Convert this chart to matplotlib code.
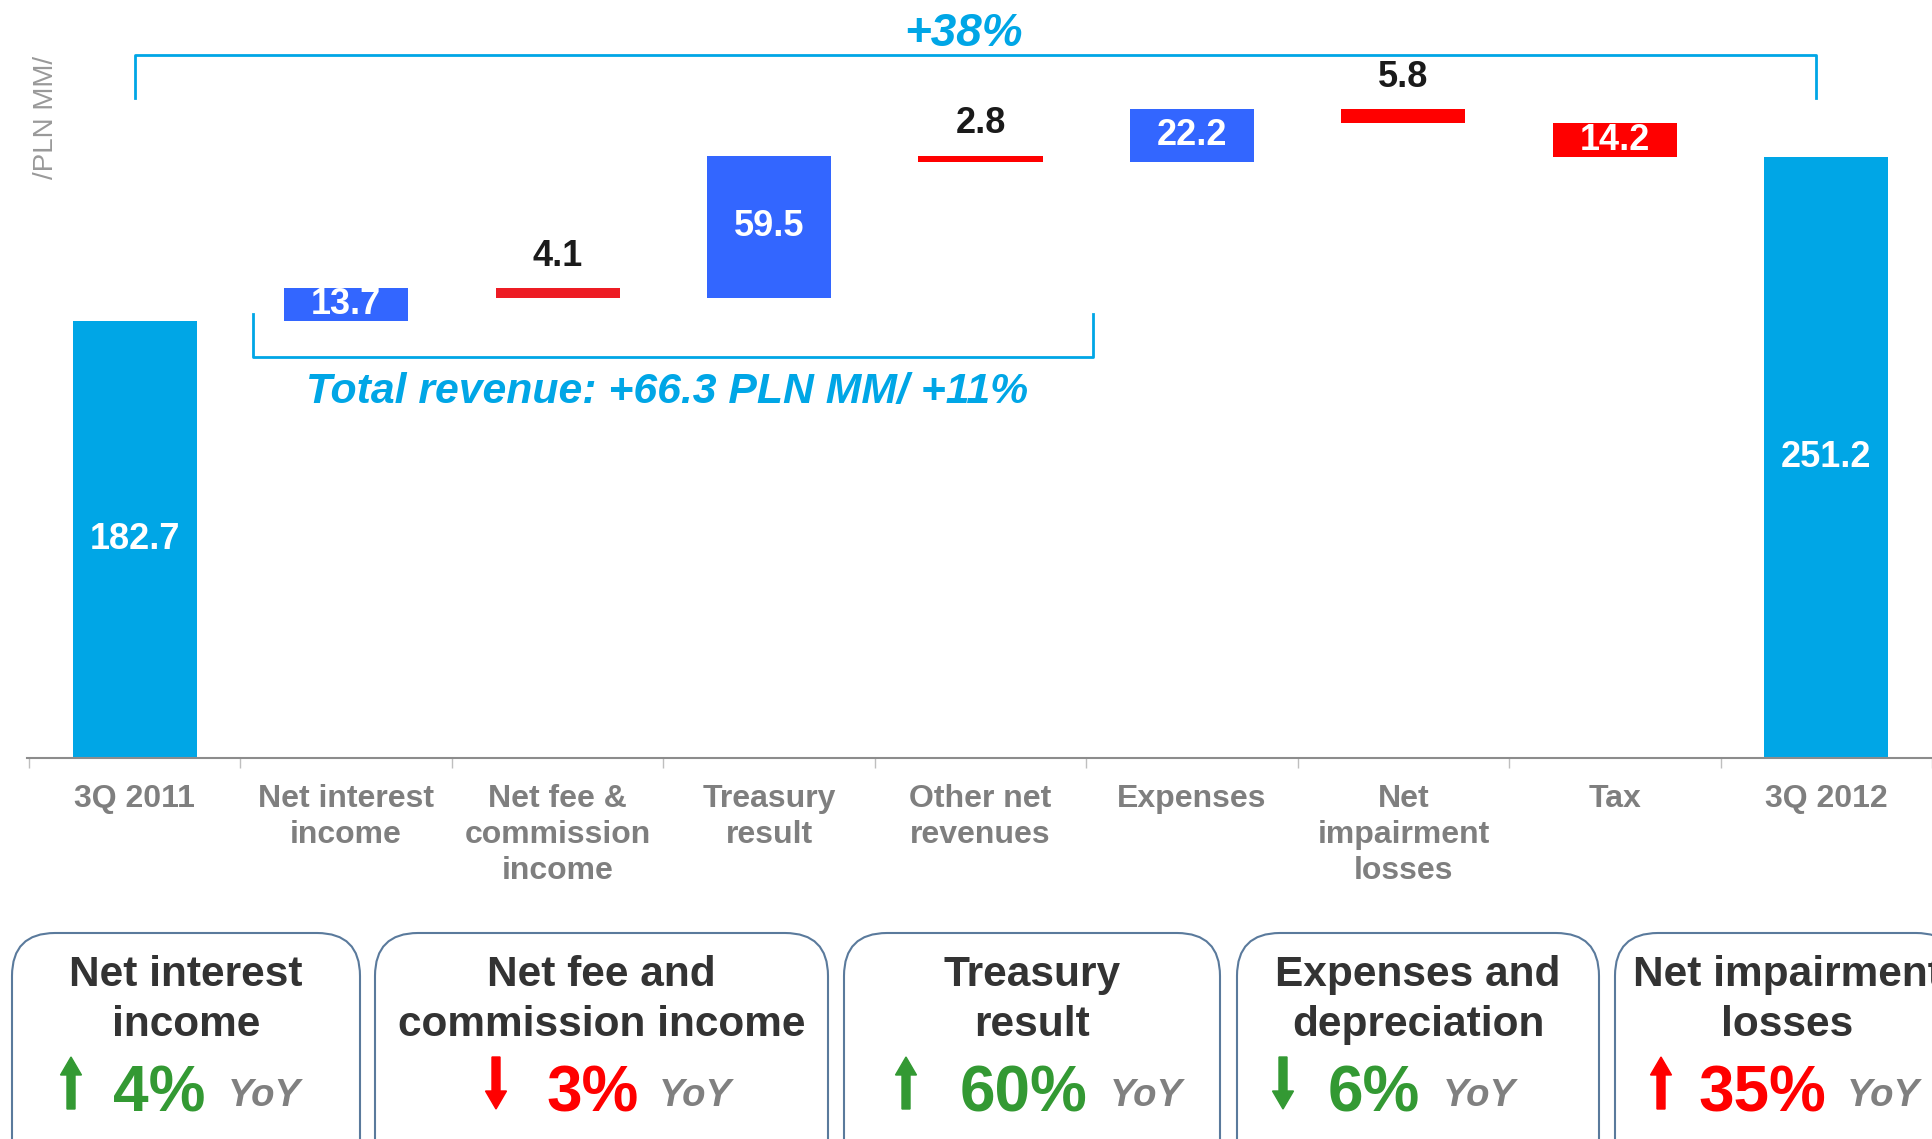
import matplotlib.pyplot as plt
from matplotlib.patches import FancyBboxPatch, FancyArrow
import numpy as np

plt.rcParams['font.family'] = ['Liberation Sans', 'DejaVu Sans']

# waterfall data (PLN MM)
categories = ['3Q 2011', 'Net interest\nincome', 'Net fee &\ncommission\nincome',
              'Treasury\nresult', 'Other net\nrevenues', 'Expenses',
              'Net\nimpairment\nlosses', 'Tax', '3Q 2012']
changes = [182.7, 13.7, -4.1, 59.5, -2.8, 22.2, -5.8, -14.2, 251.2]
is_total = [True, False, False, False, False, False, False, False, True]

# YoY boxes
box_titles = ['Net interest\nincome', 'Net fee and\ncommission income', 'Treasury\nresult',
              'Expenses and\ndepreciation', 'Net impairment\nlosses']
box_pct = ['4%', '3%', '60%', '6%', '35%']
box_up = [True, False, True, False, True]
box_good = [True, False, True, True, False]

total_text = 'Total revenue: +66.3 PLN MM/ +11%'
growth_text = '+38%'

W, H = 1932, 1139
LIGHT = '#00A6E6'
BLUE = '#3366FF'
RED = '#FF0000'
GREEN = '#339933'
STEP = 213.0  # pixels per category

fig = plt.figure(figsize=(W / 100, H / 100), dpi=100)
ax = fig.add_axes([27 / W, (H - 758) / H, (W - 27) / W, 758 / H])

x = np.arange(len(categories))
bottoms, heights, colors = [], [], []
level = 0
for v, tot in zip(changes, is_total):
    if tot:
        bottoms.append(0); heights.append(v); colors.append(LIGHT)
        level = v
    else:
        if v >= 0:
            bottoms.append(level); heights.append(v); colors.append(BLUE)
        else:
            bottoms.append(level + v); heights.append(-v); colors.append(RED)
        level += v
colors[2] = '#ED1C24'

ax.bar(x, heights, bottom=bottoms, width=0.587, color=colors, zorder=2)

for i, v in enumerate(changes):
    txt = f'{abs(v):.1f}'
    if heights[i] > 10:
        ax.text(x[i], bottoms[i] + heights[i] / 2, txt, ha='center', va='center',
                color='white', fontsize=26, fontweight='bold', zorder=3)
    else:
        ax.annotate(txt, (x[i], bottoms[i] + heights[i]), xytext=(0, 16),
                    textcoords='offset points', ha='center', va='baseline',
                    color='#1a1a1a', fontsize=26, fontweight='bold')

x_left = -(135.5 - 27) / STEP
ax.set_xlim(x_left, x_left + (W - 27) / STEP)
ax.set_ylim(0, 758 / 2.392)
for s in ['top', 'right', 'left']:
    ax.spines[s].set_visible(False)
ax.spines['bottom'].set_color('#8c8c8c')
ax.spines['bottom'].set_linewidth(1.5)
ax.set_yticks([])
ax.set_xticks(x)
ax.set_xticklabels(categories, fontsize=23, fontweight='bold', color='#7f7f7f',
                   linespacing=1.25)
ax.tick_params(axis='x', which='major', length=0, pad=19)
ax.set_xticks(np.arange(-0.5, len(categories), 1.0), minor=True)
ax.tick_params(axis='x', which='minor', length=7, color='#bfbfbf', width=1)
ax.text(-0.42, 268, '/PLN MM/', rotation=90, ha='center', va='center',
        fontsize=20, color='#999999')

# brackets
ax.plot([0, 0, 7.95, 7.95], [275.8, 293.8, 293.8, 275.8], color=LIGHT, lw=2,
        clip_on=False, solid_joinstyle='round')
ax.text(3.92, 302.5, growth_text, ha='center', va='center', color=LIGHT,
        fontsize=33, fontweight='bold', fontstyle='italic', clip_on=False)
ax.plot([0.56, 0.56, 4.53, 4.53], [185.6, 167.5, 167.5, 185.6], color=LIGHT, lw=2,
        solid_joinstyle='round')
ax.text(2.52, 153, total_text, ha='center', va='center', color=LIGHT,
        fontsize=30.8, fontweight='bold', fontstyle='italic')

# bottom YoY boxes, figure pixel layout
ov = fig.add_axes([0, 0, 1, 1])
ov.set_xlim(0, W)
ov.set_ylim(H, 0)
ov.axis('off')

box_edges = [(12, 360), (375, 828), (844, 1220), (1237, 1599), (1615, 1959)]
arrow_x = [71, 496, 906, 1283, 1661]
pct_left = [113, 546, 960, 1328, 1698]
yoy_left = [228, 659, 1110, 1443, 1847]

for i, (x0, x1) in enumerate(box_edges):
    ov.add_patch(FancyBboxPatch((x0, 933), x1 - x0, 260,
                                boxstyle='round,pad=0,rounding_size=43',
                                fc='white', ec='#5a7a9c', lw=1.5))
    cx = (x0 + x1) / 2
    l1, l2 = box_titles[i].split('\n')
    ov.text(cx, 986, l1, ha='center', va='baseline', fontsize=30.5,
            fontweight='bold', color='#333333')
    ov.text(cx, 1036, l2, ha='center', va='baseline', fontsize=30.5,
            fontweight='bold', color='#333333')
    col = GREEN if box_good[i] else RED
    if box_up[i]:
        arr = FancyArrow(arrow_x[i], 1109, 0, -52, width=8, head_width=21,
                         head_length=18, length_includes_head=True, color=col)
    else:
        arr = FancyArrow(arrow_x[i], 1057, 0, 52, width=8, head_width=21,
                         head_length=18, length_includes_head=True, color=col)
    ov.add_patch(arr)
    ov.text(pct_left[i], 1111, box_pct[i], ha='left', va='baseline', fontsize=46,
            fontweight='bold', color=col)
    ov.text(yoy_left[i], 1106, 'YoY', ha='left', va='baseline', fontsize=27.5,
            fontweight='bold', fontstyle='italic', color='#808080')

fig.savefig('out.png', dpi=100)
